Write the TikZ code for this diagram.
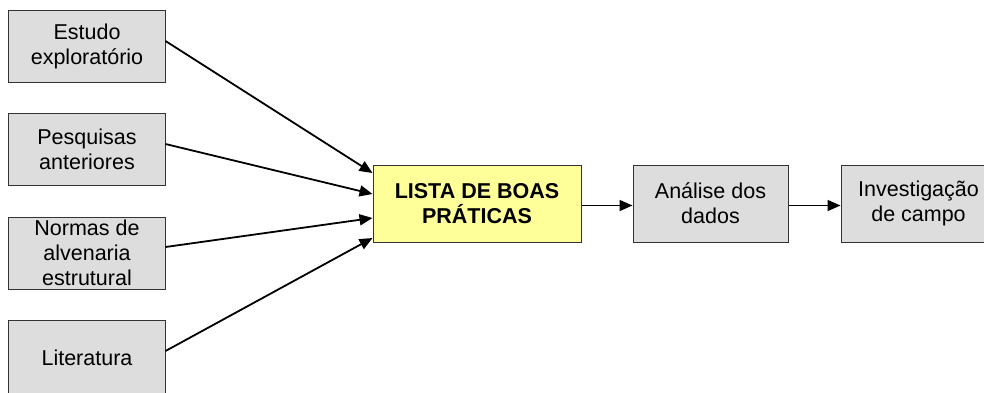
\documentclass[tikz,border=0pt]{standalone}
\usepackage{fontspec}
\setmainfont{Liberation Sans}
\usetikzlibrary{arrows.meta}
\definecolor{boxgray}{HTML}{DDDDDD}
\definecolor{boxyellow}{HTML}{FFFF99}
\definecolor{edgegray}{HTML}{333333}
\begin{document}
\begin{tikzpicture}[x=1bp,y=-1bp,
  greybox/.style={draw=edgegray,line width=1bp,fill=boxgray,align=center,inner sep=0pt,
    minimum width=156bp,minimum height=72bp,font=\fontsize{21.5bp}{25bp}\selectfont},
  yellowbox/.style={draw=edgegray,line width=1bp,fill=boxyellow,align=center,inner sep=0pt,
    minimum width=208bp,minimum height=77bp,font=\fontsize{21.5bp}{25bp}\selectfont\bfseries},
  arr/.style={line width=1.8bp,-{Triangle[length=13bp,width=11bp]}}]
\useasboundingbox (0,0) rectangle (984,392);
\node[greybox] (b1) at (87,46) {Estudo\\exploratório};
\node[greybox] (b2) at (87,149) {Pesquisas\\anteriores};
\node[greybox] (b3) at (87,253) {Normas de\\alvenaria\\estrutural};
\node[greybox,minimum height=80bp] (b4) at (87,360) {\raisebox{4bp}{Literatura}};
\node[yellowbox] (lista) at (477,203.5) {LISTA DE BOAS\\PRÁTICAS};
\node[greybox,minimum width=155bp,minimum height=77bp] (ana) at (710.5,203.5) {Análise dos\\dados};
\node[greybox,minimum width=155bp,minimum height=77bp] (inv) at (918.5,203.5) {Investigação\\de campo};
\draw[arr] ([yshift=5bp]b1.east) -- ([yshift=30.5bp]lista.west);
\draw[arr] ([yshift=5bp]b2.east) -- ([yshift=9.5bp]lista.west);
\draw[arr] ([yshift=6bp]b3.east) -- ([yshift=-14.5bp]lista.west);
\draw[arr] ([yshift=9bp]b4.east) -- ([yshift=-34.5bp]lista.west);
\draw[arr] ([yshift=-2bp]lista.east) -- ([yshift=-2bp]ana.west);
\draw[arr] ([yshift=-2bp]ana.east) -- ([yshift=-2bp]inv.west);
\end{tikzpicture}
\end{document}
